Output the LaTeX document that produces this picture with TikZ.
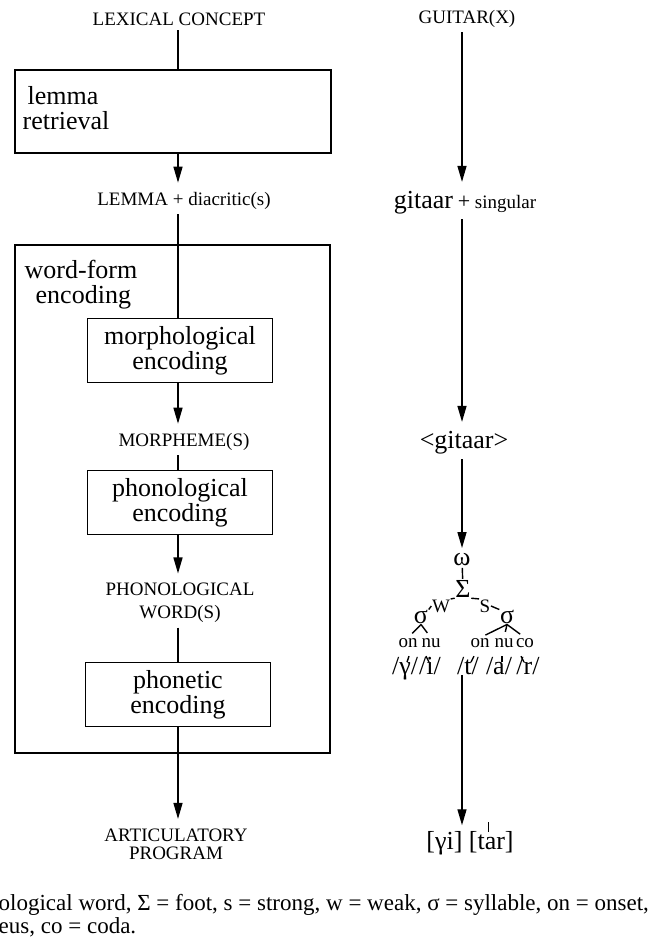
\documentclass[tikz,border=0pt]{standalone}
\usepackage{fontspec}
\setmainfont{Liberation Serif}
\usetikzlibrary{positioning, arrows.meta}
\newcommand\bigtxt{\fontsize{26}{25}\selectfont}
\newcommand\smtxt{\fontsize{19}{22}\selectfont}

\begin{document}
\begin{tikzpicture}[x=1pt, y=-1pt, line width=1.4pt,
    box/.style={draw, minimum width=185, minimum height=64, align=center, font=\bigtxt, inner sep=2pt},
    lab/.style={align=center, font=\smtxt, inner sep=4pt},
    lbl/.style={inner sep=0pt, font=\smtxt},
    big/.style={inner sep=0pt, font=\bigtxt},
    arr/.style={-{Triangle[length=16pt, width=9pt]}, shorten >=5pt},]
    \useasboundingbox (0,0) rectangle (659,949);
    \coordinate (ax) at (178,0);
    \coordinate (bx) at (462,0);

    % left column
    \node[lab] (lc) at (179,19) {LEXICAL CONCEPT};
    \node[draw, minimum width=316, minimum height=83] (lr) at (173,111.5) {};
    \node[big, align=left, anchor=north west] (lrt) at (22,86) {\hspace*{5pt}lemma\\retrieval};
    \node[lab] (lem) at (184,201) {LEMMA + diacritic(s)};
    \node[draw, minimum width=315, minimum height=508] (wf) at (172.5,499) {};
    \node[big, align=left, anchor=north west] (wft) at (24,259) {word-form\\\hspace*{11pt}encoding};
    \node[box] (me) at (180,350.5) {morphological\\encoding};
    \node[lab] (mo) at (184,442) {MORPHEME(S)};
    \node[box] (pe) at (180,502.5) {phonological\\encoding};
    \node[lab, font=\fontsize{19}{23}\selectfont] (pw) at (180,603) {PHONOLOGICAL\\WORD(S)};
    \node[box] (pt) at (178,694.5) {phonetic\\encoding};
    \node[lab, font=\fontsize{19}{18}\selectfont] (ap) at (176,844) {ARTICULATORY\\PROGRAM};

    \foreach \a/\b/\s in {lc/lr/, lr/lem/arr, lem/me/, me/mo/arr, mo/pe/, pe/pw/arr, pw/pt/, pt/ap/arr}
        \draw[\s] (\a.south -| ax) -- (\b.north -| ax);

    % right column
    \node[lab] (gx) at (467,19) {GUITAR(X)};
    \node[lab] (gs) at (465,203) {{\bigtxt gitaar} {\fontsize{22}{22}\selectfont +} singular};
    \node[lab, font=\bigtxt] (gg) at (464,443) {<gitaar>};
    \node[big] (om) at (462,560) {ω};
    \node[big] (fs) at (463,589) {Σ};
    \node[inner sep=0pt, font=\fontsize{19}{19}\selectfont] (w) at (441,606) {W};
    \node[inner sep=0pt, font=\fontsize{19}{19}\selectfont] (s) at (485,606) {S};
    \node[big] (sy1) at (421,617) {σ};
    \node[big] (sy2) at (507,617) {σ};
    \node[lbl] (on1) at (408,643) {on};
    \node[lbl] (nu1) at (431,643) {nu};
    \node[lbl] (on2) at (480,643) {on};
    \node[lbl] (nu2) at (504,643) {nu};
    \node[lbl] (co2) at (525,643) {co};
    \node[big, anchor=base] (p1) at (405,674) {/γ/};
    \node[big, anchor=base] (p2) at (430,674) {/i/};
    \node[big, anchor=base] (p3) at (468,674) {/t/};
    \node[big, anchor=base] (p4) at (499,674) {/a/};
    \node[big, anchor=base] (p5) at (528,674) {/r/};
    \node[big, anchor=base] (out) at (470,849) {[γi] [tar]};

    \draw[arr] (gx.south -| bx) -- (gs.north -| bx);
    \draw[arr] (gs.south -| bx) -- (gg.north -| bx);
    \draw[arr] (gg.south -| bx) -- (om.north -| bx);
    \draw[shorten <=1pt, shorten >=1pt] (om) -- (fs);
    \draw (fs.south west) -- (w.north east);
    \draw (w.west) -- (sy1.north east);
    \draw (fs.south east) -- (s.north west);
    \draw (s.east) -- (sy2.north west);
    \foreach \a/\b in {sy1/on1, sy1/nu1, sy2/on2, sy2/nu2, sy2/co2}
        \draw[shorten >=6pt] (\a.south) -- (\b.north);
    \foreach \p/\o/\d in {p1/4/-2, p2/-4/3, p3/6/-3, p4/3/0, p5/-7/3}
        \draw ([xshift=\o]\p.north) --++(\d,6);
    \draw[arr] (p3.south -| bx) -- (out.north -| bx);
    \draw[line width=1pt] (488,822) -- (488,832);

    % caption, cut at the left
    \node[anchor=base west, inner sep=0pt, font=\fontsize{23}{25}\selectfont] (c1) at (-2,910) {ological word, Σ = foot, s = strong, w = weak, σ = syllable, on = onset,};
    \node[anchor=base west, inner sep=0pt, font=\fontsize{23}{25}\selectfont] (c2) at (-2,933) {eus, co = coda.};
\end{tikzpicture}
\end{document}
